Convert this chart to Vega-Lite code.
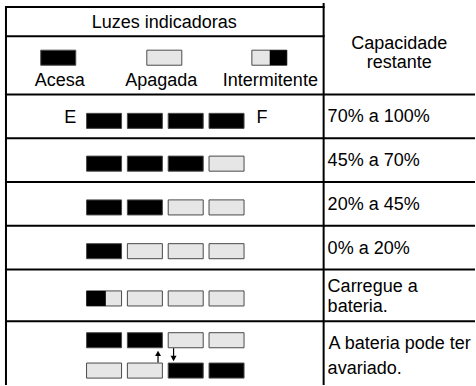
{
  "$schema": "https://vega.github.io/schema/vega-lite/v6.json",
  "width": 476,
  "height": 386,
  "padding": 0,
  "autosize": {"type": "fit", "contains": "padding"},
  "background": "white",
  "config": {"view": {"stroke": null}},
  "datasets": {
    "grade": [
      {"x": 6, "x2": 325, "y": 7, "y2": 7},
      {"x": 6, "x2": 6, "y": 7, "y2": 386},
      {"x": 325, "x2": 325, "y": 4, "y2": 386},
      {"x": 6, "x2": 325, "y": 36.5, "y2": 36.5},
      {"x": 6, "x2": 476, "y": 95, "y2": 95},
      {"x": 6, "x2": 476, "y": 139, "y2": 139},
      {"x": 6, "x2": 476, "y": 183, "y2": 183},
      {"x": 6, "x2": 476, "y": 227, "y2": 227},
      {"x": 6, "x2": 476, "y": 271, "y2": 271},
      {"x": 6, "x2": 476, "y": 323, "y2": 323}
    ],
    "luzes": [
      {"linha": "legenda", "x": 58.5, "y": 58, "estado": "Acesa"},
      {"linha": "legenda", "x": 165, "y": 58, "estado": "Apagada"},
      {"linha": "legenda", "x": 270.5, "y": 58, "estado": "Intermitente", "metade": "direita"},
      {"linha": "70% a 100%", "x": 104.5, "y": 121.5, "estado": "Acesa"},
      {"linha": "70% a 100%", "x": 145.5, "y": 121.5, "estado": "Acesa"},
      {"linha": "70% a 100%", "x": 186.5, "y": 121.5, "estado": "Acesa"},
      {"linha": "70% a 100%", "x": 227.5, "y": 121.5, "estado": "Acesa"},
      {"linha": "45% a 70%", "x": 104.5, "y": 164.5, "estado": "Acesa"},
      {"linha": "45% a 70%", "x": 145.5, "y": 164.5, "estado": "Acesa"},
      {"linha": "45% a 70%", "x": 186.5, "y": 164.5, "estado": "Acesa"},
      {"linha": "45% a 70%", "x": 227.5, "y": 164.5, "estado": "Apagada"},
      {"linha": "20% a 45%", "x": 104.5, "y": 208.5, "estado": "Acesa"},
      {"linha": "20% a 45%", "x": 145.5, "y": 208.5, "estado": "Acesa"},
      {"linha": "20% a 45%", "x": 186.5, "y": 208.5, "estado": "Apagada"},
      {"linha": "20% a 45%", "x": 227.5, "y": 208.5, "estado": "Apagada"},
      {"linha": "0% a 20%", "x": 104.5, "y": 252.5, "estado": "Acesa"},
      {"linha": "0% a 20%", "x": 145.5, "y": 252.5, "estado": "Apagada"},
      {"linha": "0% a 20%", "x": 186.5, "y": 252.5, "estado": "Apagada"},
      {"linha": "0% a 20%", "x": 227.5, "y": 252.5, "estado": "Apagada"},
      {"linha": "Carregue a bateria.", "x": 104.5, "y": 300, "estado": "Intermitente", "metade": "esquerda"},
      {"linha": "Carregue a bateria.", "x": 145.5, "y": 300, "estado": "Apagada"},
      {"linha": "Carregue a bateria.", "x": 186.5, "y": 300, "estado": "Apagada"},
      {"linha": "Carregue a bateria.", "x": 227.5, "y": 300, "estado": "Apagada"},
      {"linha": "A bateria pode ter avariado. (1)", "x": 104.5, "y": 342, "estado": "Acesa"},
      {"linha": "A bateria pode ter avariado. (1)", "x": 145.5, "y": 342, "estado": "Acesa"},
      {"linha": "A bateria pode ter avariado. (1)", "x": 186.5, "y": 342, "estado": "Apagada"},
      {"linha": "A bateria pode ter avariado. (1)", "x": 227.5, "y": 342, "estado": "Apagada"},
      {"linha": "A bateria pode ter avariado. (2)", "x": 104.5, "y": 372.5, "estado": "Apagada"},
      {"linha": "A bateria pode ter avariado. (2)", "x": 145.5, "y": 372.5, "estado": "Apagada"},
      {"linha": "A bateria pode ter avariado. (2)", "x": 186.5, "y": 372.5, "estado": "Acesa"},
      {"linha": "A bateria pode ter avariado. (2)", "x": 227.5, "y": 372.5, "estado": "Acesa"}
    ],
    "setas": [
      {"sentido": "sobe", "x": 158.7, "y": 364.5, "y2": 356},
      {"sentido": "desce", "x": 174.3, "y": 350, "y2": 359}
    ],
    "pontas": [
      {"sentido": "sobe", "x": 158.7, "y": 355.5},
      {"sentido": "desce", "x": 174.3, "y": 360}
    ],
    "textos": [
      {"texto": "Luzes indicadoras", "x": 165, "y": 28, "alinhamento": "centro"},
      {"texto": "Acesa", "x": 60, "y": 86, "alinhamento": "centro"},
      {"texto": "Apagada", "x": 162, "y": 86, "alinhamento": "centro"},
      {"texto": "Intermitente", "x": 271.5, "y": 86, "alinhamento": "centro"},
      {"texto": "Capacidade", "x": 401, "y": 49, "alinhamento": "centro"},
      {"texto": "restante", "x": 401, "y": 68, "alinhamento": "centro"},
      {"texto": "E", "x": 70.5, "y": 124, "alinhamento": "centro"},
      {"texto": "F", "x": 263, "y": 124, "alinhamento": "centro"},
      {"texto": "70% a 100%", "x": 329, "y": 123, "alinhamento": "esquerda"},
      {"texto": "45% a 70%", "x": 329, "y": 167, "alinhamento": "esquerda"},
      {"texto": "20% a 45%", "x": 329, "y": 211, "alinhamento": "esquerda"},
      {"texto": "0% a 20%", "x": 329, "y": 255, "alinhamento": "esquerda"},
      {"texto": "Carregue a", "x": 329, "y": 294, "alinhamento": "esquerda"},
      {"texto": "bateria.", "x": 329, "y": 314, "alinhamento": "esquerda"},
      {"texto": "A bateria pode ter", "x": 330, "y": 351, "alinhamento": "esquerda"},
      {"texto": "avariado.", "x": 329, "y": 376, "alinhamento": "esquerda"}
    ]
  },
  "encoding": {
    "x": {"field": "x", "type": "quantitative", "axis": null, "scale": {"domain": [0, 476], "nice": false, "zero": false}},
    "y": {"field": "y", "type": "quantitative", "axis": null, "scale": {"domain": [0, 386], "nice": false, "zero": false, "reverse": true}}
  },
  "resolve": {"scale": {"shape": "independent", "fill": "independent"}},
  "layer": [
    {
      "data": {"name": "grade"},
      "mark": {"type": "rule", "color": "#000000", "strokeWidth": 2, "strokeCap": "square"},
      "encoding": {"x2": {"field": "x2"}, "y2": {"field": "y2"}}
    },
    {
      "data": {"name": "luzes"},
      "mark": {"type": "point", "filled": true, "opacity": 1, "size": 1225, "shape": "M-1,-0.43L1,-0.43L1,0.43L-1,0.43Z", "stroke": "#4a4a4a", "strokeWidth": 1},
      "encoding": {
        "fill": {"field": "estado", "type": "nominal", "legend": null, "scale": {"domain": ["Acesa", "Apagada", "Intermitente"], "range": ["#000000", "#e6e6e6", "#e6e6e6"]}}
      }
    },
    {
      "data": {"name": "luzes"},
      "transform": [{"filter": "datum.estado === 'Intermitente'"}],
      "mark": {"type": "point", "filled": true, "opacity": 1, "size": 1225, "fill": "#000000", "strokeWidth": 0},
      "encoding": {
        "shape": {"field": "metade", "type": "nominal", "legend": null, "scale": {"domain": ["esquerda", "direita"], "range": ["M-1,-0.43L0.1,-0.43L0.1,0.43L-1,0.43Z", "M0.02,-0.43L1,-0.43L1,0.43L0.02,0.43Z"]}}
      }
    },
    {
      "data": {"name": "setas"},
      "mark": {"type": "rule", "color": "#000000", "strokeWidth": 1.2},
      "encoding": {"y2": {"field": "y2"}}
    },
    {
      "data": {"name": "pontas"},
      "mark": {"type": "point", "filled": true, "opacity": 1, "size": 36, "color": "#000000", "strokeWidth": 0},
      "encoding": {
        "shape": {"field": "sentido", "type": "nominal", "legend": null, "scale": {"domain": ["sobe", "desce"], "range": ["M-1,0.8L0,-1L1,0.8Z", "M-1,-0.8L0,1L1,-0.8Z"]}}
      }
    },
    {
      "data": {"name": "textos"},
      "transform": [{"filter": "datum.alinhamento === 'centro'"}],
      "mark": {"type": "text", "align": "center", "baseline": "alphabetic", "font": "Liberation Sans", "fontSize": 18, "color": "#000000"},
      "encoding": {"text": {"field": "texto"}}
    },
    {
      "data": {"name": "textos"},
      "transform": [{"filter": "datum.alinhamento === 'esquerda'"}],
      "mark": {"type": "text", "align": "left", "baseline": "alphabetic", "font": "Liberation Sans", "fontSize": 18, "color": "#000000"},
      "encoding": {"text": {"field": "texto"}}
    }
  ]
}
